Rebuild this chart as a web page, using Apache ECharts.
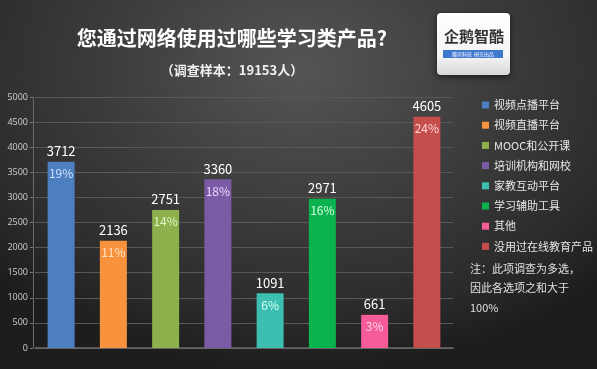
<!DOCTYPE html>
<html><head><meta charset="utf-8">
<script src="https://cdn.jsdelivr.net/npm/echarts@6/dist/echarts.min.js"></script>
<style>
html,body{margin:0;padding:0;width:597px;height:369px;overflow:hidden;
background:radial-gradient(ellipse 420px 300px at 300px 70px,#555555 0%,#3d3d3d 45%,#2c2c2c 80%,#1d1d1d 100%);}
#c{width:597px;height:369px;}
</style></head><body><div id="c"></div>
<script>
const categories = ['视频点播平台','视频直播平台','MOOC和公开课','培训机构和网校','家教互动平台','学习辅助工具','其他','没用过在线教育产品'];
const values = [3712, 2136, 2751, 3360, 1091, 2971, 661, 4605];
const percents = ['19%','11%','14%','18%','6%','16%','3%','24%'];
const colors = ['#4d7fc0','#f8923d','#8cb04b','#7b5aa6','#3cbfb0','#0bb34f','#f55c98','#c44e4b'];
const pctColors = ['#cfe2ff','#ffe0c4','#e6f5c8','#e6d8fa','#d4fff8','#d6ffe4','#ffd6e6','#ffd6d4'];
const yTicks = [0, 500, 1000, 1500, 2000, 2500, 3000, 3500, 4000, 4500, 5000];
const title = '您通过网络使用过哪些学习类产品?';
const subtitle = '（调查样本：19153人）';
const noteLines = ['注：此项调查为多选，','因此各选项之和大于','100%'];

const FONT = '"Noto Sans CJK SC", "Open Sans", sans-serif';
const series = [];
categories.forEach((name, i) => {
  const d = categories.map((_, j) => j === i ? values[j] : '-');
  series.push({
    name, type: 'bar', barWidth: 27, barGap: '-100%',
    itemStyle: { color: colors[i] },
    label: { show: true, position: 'top', distance: 4, color: '#ffffff', fontSize: 13, fontFamily: FONT },
    data: d
  });
});
categories.forEach((name, i) => {
  const d = categories.map((_, j) => j === i ? values[j] : '-');
  series.push({
    name: name + '_pct', type: 'bar', barWidth: 27, barGap: '-100%',
    itemStyle: { color: 'rgba(0,0,0,0)' }, silent: true,
    label: { show: true, position: 'insideTop', distance: 6, color: pctColors[i], fontSize: 12, fontFamily: FONT,
      formatter: p => percents[p.dataIndex] },
    data: d
  });
});

const chart = echarts.init(document.getElementById('c'), null, { renderer: 'canvas' });
chart.setOption({
  backgroundColor: 'transparent',
  animation: false,
  textStyle: { fontFamily: FONT },
  grid: { left: 35, right: 144, top: 97, bottom: 21 },
  xAxis: {
    type: 'category', data: categories,
    axisLine: { show: true, lineStyle: { color: '#6a6a6a', width: 1.5 } },
    axisTick: { show: false }, axisLabel: { show: false }
  },
  yAxis: {
    type: 'value', min: yTicks[0], max: yTicks[yTicks.length - 1], interval: 500, offset: 2,
    axisLine: { show: true, lineStyle: { color: '#6a6a6a' } },
    axisTick: { show: true, length: 3, lineStyle: { color: '#777' } },
    axisLabel: { color: '#d0d0d0', fontSize: 9, margin: 5, fontFamily: '"Open Sans", sans-serif', formatter: v => String(v) },
    splitLine: { show: true, lineStyle: { color: '#585858', width: 1 } }
  },
  legend: {
    orient: 'vertical', left: 477, top: 93,
    data: categories,
    icon: 'rect', itemWidth: 7, itemHeight: 7, itemGap: 6.2,
    textStyle: { color: '#e6e6e6', fontSize: 11, lineHeight: 14, fontFamily: FONT }
  },
  series,
  graphic: [
    { type: 'text', x: 232, y: 38, style: { text: title, fill: '#ffffff', font: 'bold 20px ' + FONT, textAlign: 'center', textVerticalAlign: 'middle', shadowColor: 'rgba(0,0,0,0.6)', shadowBlur: 3 } },
    { type: 'text', x: 232, y: 70, style: { text: subtitle, fill: '#f0f0f0', font: 'bold 13px ' + FONT, textAlign: 'center', textVerticalAlign: 'middle' } },
    { type: 'rect', shape: { x: 437, y: 13, width: 73, height: 62, r: 4 }, style: { fill: new echarts.graphic.LinearGradient(0,0,0,1,[{offset:0,color:'#ffffff'},{offset:0.7,color:'#f4f4f4'},{offset:1,color:'#d8d8d8'}]), shadowColor: 'rgba(0,0,0,0.6)', shadowBlur: 6, shadowOffsetY: 2 } },
    { type: 'text', x: 474, y: 36, style: { text: '企鹅智酷', fill: '#333333', font: 'bold 15px ' + FONT, textAlign: 'center', textVerticalAlign: 'middle' } },
    { type: 'rect', shape: { x: 443, y: 50, width: 60, height: 8 }, style: { fill: '#3f78cf' } },
    { type: 'text', x: 473, y: 54, style: { text: '腾讯科技  研究出品', fill: '#ffffff', font: '5px ' + FONT, textAlign: 'center', textVerticalAlign: 'middle' } },
    { type: 'text', x: 470, y: 259, style: { text: noteLines.join('\n'), fill: '#e0e0e0', font: '11px ' + FONT, lineHeight: 19.5 } }
  ]
});
</script></body></html>
